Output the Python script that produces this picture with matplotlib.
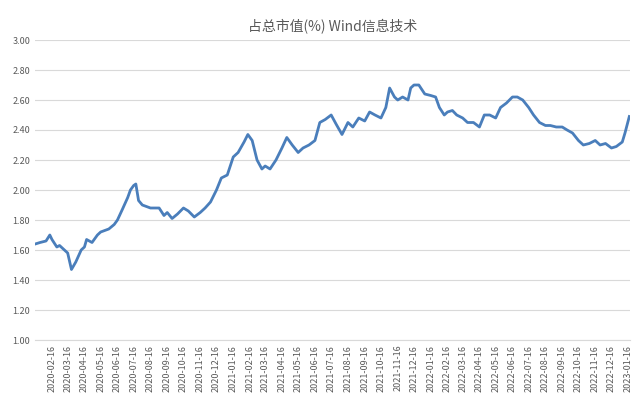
import matplotlib
matplotlib.use("Agg")
import matplotlib.pyplot as plt
import matplotlib.dates as mdates
import pandas as pd

plt.rcParams['font.family'] = ['Noto Sans CJK SC', 'DejaVu Sans']

dates = ["2020-01-16","2020-01-25","2020-02-05","2020-02-12","2020-02-16","2020-02-25","2020-03-01","2020-03-10","2020-03-16","2020-03-23","2020-03-31","2020-04-10","2020-04-16","2020-04-20","2020-04-30","2020-05-10","2020-05-16","2020-05-31","2020-06-10","2020-06-16","2020-06-25","2020-07-05","2020-07-10","2020-07-16","2020-07-20","2020-07-25","2020-08-01","2020-08-16","2020-09-01","2020-09-10","2020-09-16","2020-09-25","2020-10-05","2020-10-16","2020-10-25","2020-11-05","2020-11-16","2020-11-25","2020-12-05","2020-12-16","2020-12-25",
"2021-01-05","2021-01-16","2021-01-25","2021-02-05","2021-02-12","2021-02-20","2021-03-01","2021-03-10","2021-03-16","2021-03-25","2021-04-05","2021-04-16","2021-04-25","2021-05-05","2021-05-16","2021-05-25","2021-06-05","2021-06-16","2021-06-25","2021-07-05","2021-07-16","2021-07-25","2021-08-05","2021-08-16","2021-08-25","2021-09-05","2021-09-16","2021-09-25","2021-10-05","2021-10-16","2021-10-25","2021-11-01","2021-11-10","2021-11-16","2021-11-25","2021-12-05","2021-12-10","2021-12-16","2021-12-25",
"2022-01-05","2022-01-16","2022-01-25","2022-02-01","2022-02-10","2022-02-16","2022-02-25","2022-03-05","2022-03-16","2022-03-25","2022-04-05","2022-04-16","2022-04-25","2022-05-05","2022-05-16","2022-05-25","2022-06-05","2022-06-16","2022-06-25","2022-07-05","2022-07-16","2022-07-25","2022-08-05","2022-08-16","2022-08-25","2022-09-05","2022-09-16","2022-09-25","2022-10-05","2022-10-16","2022-10-25","2022-11-05","2022-11-16","2022-11-25","2022-12-05","2022-12-16","2022-12-25","2023-01-05","2023-01-10","2023-01-18"]
values = [1.64,1.65,1.66,1.70,1.67,1.62,1.63,1.60,1.58,1.47,1.52,1.60,1.62,1.67,1.65,1.70,1.72,1.74,1.77,1.80,1.87,1.95,2.00,2.03,2.04,1.93,1.90,1.88,1.88,1.83,1.85,1.81,1.84,1.88,1.86,1.82,1.85,1.88,1.92,2.00,2.08,
2.10,2.22,2.25,2.32,2.37,2.33,2.20,2.14,2.16,2.14,2.20,2.28,2.35,2.30,2.25,2.28,2.30,2.33,2.45,2.47,2.50,2.44,2.37,2.45,2.42,2.48,2.46,2.52,2.50,2.48,2.55,2.68,2.62,2.60,2.62,2.60,2.68,2.70,2.70,
2.64,2.63,2.62,2.55,2.50,2.52,2.53,2.50,2.48,2.45,2.45,2.42,2.50,2.50,2.48,2.55,2.58,2.62,2.62,2.60,2.55,2.50,2.45,2.43,2.43,2.42,2.42,2.40,2.38,2.33,2.30,2.31,2.33,2.30,2.31,2.28,2.29,2.32,2.38,2.49]

x = pd.to_datetime(dates)
fig, ax = plt.subplots(figsize=(6.4, 4.0), dpi=100)
fig.subplots_adjust(left=0.055, right=0.985, top=0.9, bottom=0.15)
ax.plot(x, values, color='#4a7ebb', lw=2)
ax.set_ylim(1.0, 3.0)
ax.set_yticks([1.0+0.2*i for i in range(11)])
ax.set_yticklabels([f"{1.0+0.2*i:.2f}" for i in range(11)])
ticks = pd.date_range("2020-01-16", "2023-01-16", freq="MS") + pd.Timedelta(days=15)
ax.set_xticks(ticks)
ax.set_xticklabels([t.strftime("%Y-%m-%d") for t in ticks], rotation=90)
ax.set_xlim(pd.Timestamp("2020-01-16"), pd.Timestamp("2023-01-20"))
ax.tick_params(labelsize=6.5, colors='#595959', length=0)
ax.grid(axis='y', color='#d9d9d9', lw=0.8)
for s in ['top','right','left']:
    ax.spines[s].set_visible(False)
ax.spines['bottom'].set_color('#d9d9d9')
ax.set_axisbelow(True)
ax.set_title("占总市值(%) Wind信息技术", fontsize=10, color='#595959')
fig.savefig("out.png")
